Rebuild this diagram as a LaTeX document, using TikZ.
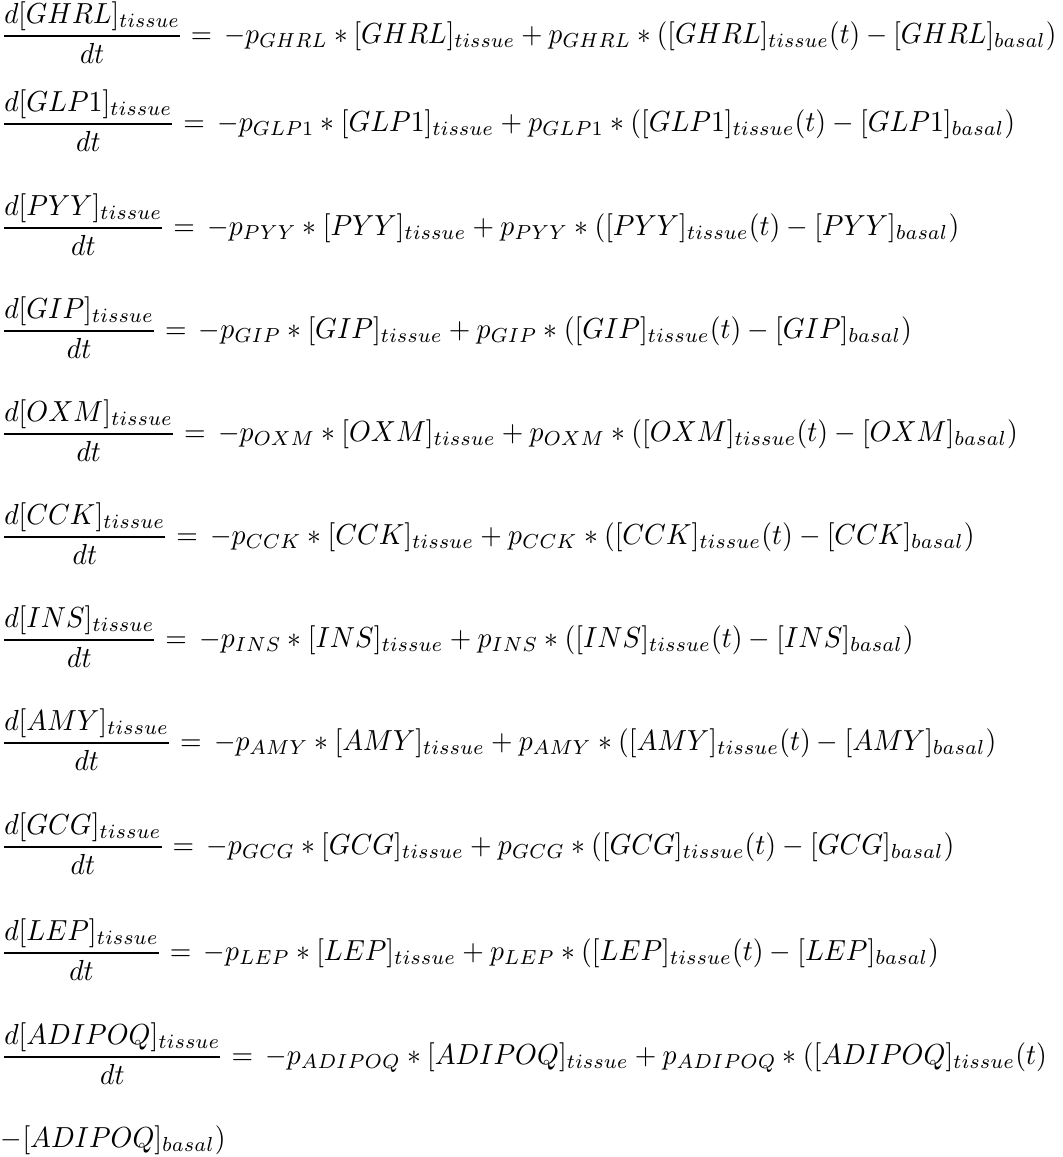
\documentclass[tikz,border=0pt]{standalone}
\usepackage{amsmath}
\newcommand\hrow[1]{\displaystyle\frac{d[#1]_{tissue}}{dt} =\, -p_{#1} * [#1]_{tissue} + p_{#1} * ([#1]_{tissue}(t) - [#1]_{basal})}
\newcommand\bigeq[2][2.77]{\scalebox{#1}[2.9]{$#2$}}
\begin{document}
\begin{tikzpicture}[x=1pt,y=-1pt]
\tikzset{eqn/.style={anchor=base west, inner sep=0pt, outer sep=0pt}}
\useasboundingbox (0,0) rectangle (1063,1157);
\node[eqn] (r1) at (1,43.25) {\bigeq[2.72]{\hrow{GHRL}}};
\node[eqn] (r2) at (1,131.25) {\bigeq{\hrow{GLP1}}};
\node[eqn] (r3) at (1,235.25) {\bigeq{\hrow{PYY}}};
\node[eqn] (r4) at (1,338.25) {\bigeq{\hrow{GIP}}};
\node[eqn] (r5) at (1,441.25) {\bigeq{\hrow{OXM}}};
\node[eqn] (r6) at (1,544.25) {\bigeq{\hrow{CCK}}};
\node[eqn] (r7) at (1,647.25) {\bigeq{\hrow{INS}}};
\node[eqn] (r8) at (1,750.25) {\bigeq{\hrow{AMY}}};
\node[eqn] (r9) at (1,854.25) {\bigeq{\hrow{GCG}}};
\node[eqn] (r10) at (1,960.25) {\bigeq{\hrow{LEP}}};
\node[eqn] (r11) at (1,1064.25) {\bigeq{\displaystyle\frac{d[ADIPOQ]_{tissue}}{dt} =\, -p_{ADIPOQ} * [ADIPOQ]_{tissue} + p_{ADIPOQ} * ([ADIPOQ]_{tissue}(t)}};
\node[eqn] (r12) at (1,1147) {\bigeq{{-}[ADIPOQ]_{basal})}};
\end{tikzpicture}
\end{document}
